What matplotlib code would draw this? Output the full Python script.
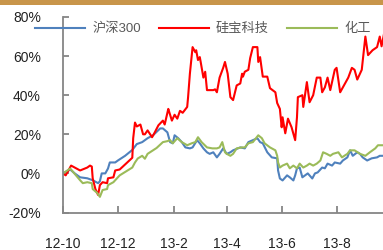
import matplotlib
matplotlib.use("Agg")
import matplotlib.pyplot as plt
import pandas as pd
from matplotlib.patches import Rectangle

plt.rcParams['font.family'] = ['Liberation Sans', 'Noto Sans CJK SC', 'DejaVu Sans']

start = pd.Timestamp('2012-10-01')

# days after 2012-10-01, cumulative return in %
red_days = [0, 3, 9, 19, 27, 30, 32, 33, 36, 39, 41, 44, 49, 50, 56, 58, 63, 70, 77, 78,
            80, 82, 86, 89, 91, 94, 99, 102, 106, 111, 113, 116, 117, 119, 121, 124, 127, 130, 133, 138,
            139, 141, 144, 147, 148, 150, 152, 153, 156, 158, 160, 167, 169, 171, 174, 178, 180, 182, 183, 186,
            189, 193, 197, 199, 200, 202, 206, 208, 211, 216, 217, 219, 222, 227, 230, 236, 238, 241, 243, 244,
            247, 250, 254, 258, 260, 261, 266, 267, 271, 274, 278, 282, 286, 288, 291, 294, 297, 302, 304, 308,
            311, 317, 321, 324, 327, 332, 336, 339, 344, 349, 352, 354, 357]
red_vals = [0, -1, 4, 1.5, 3, 4, 3.5, -2.5, -8, -11, -6, -4.5, -5, -2.5, -2, 1.5, 2, 5, 8, 18,
            26, 24, 25, 20, 20, 22, 18.5, 21, 24.6, 27, 25, 31, 33, 30, 27, 30, 28, 32, 31, 34,
            39, 51, 64.6, 62, 63, 58, 59.5, 57, 49, 52, 42.6, 42.6, 43, 41.5, 49, 54, 57, 53, 51, 39,
            37.5, 45, 46, 51, 49.5, 52, 53, 59, 64.6, 64.6, 57, 59.5, 49.5, 49.5, 43.6, 41.5, 36, 33, 23.6, 28.7,
            20.5, 28, 23.6, 17, 28.7, 39, 40, 34, 46.7, 36.4, 40, 49, 49, 41.5, 44, 49, 42.6, 53, 54, 41.5,
            44, 49, 54, 53, 48, 53, 70, 60.5, 63, 64.6, 70, 65, 72]

blue_days = [0, 8, 13, 19, 27, 33, 39, 41, 43, 47, 50, 52, 58, 61, 69, 77, 82, 88, 94, 100,
             108, 111, 116, 119, 122, 124, 128, 132, 136, 141, 144, 149, 152, 156, 160, 163, 167, 171, 174, 178,
             182, 186, 189, 197, 202, 206, 211, 216, 219, 222, 227, 232, 238, 239, 241, 244, 249, 252, 256, 258,
             260, 263, 266, 269, 272, 277, 280, 283, 288, 291, 294, 299, 302, 308, 311, 316, 319, 322, 327, 330,
             333, 338, 343, 349, 352, 357]
blue_vals = [0, 2, 0, -2, -2.5, -3.5, -5, -4, 0, 0, 2.5, 5.6, 5.6, 6.6, 9, 12, 15, 16, 18, 19.5,
             23, 23, 21, 16, 15.4, 19.5, 18, 16, 13.3, 12.8, 13.3, 17, 15.4, 12.8, 10.8, 10, 10.8, 8.2, 10, 12.8,
             10, 10.8, 11.8, 13.3, 12.8, 16, 17, 18, 16, 15.4, 10.8, 8.2, 7.7, 1.5, -2.6, -3.6, -1, -2, -3.6, -1,
             2.6, 3, -2, -1, 0, -2.6, 0, 0.5, 3, 2.6, 5, 4, 5.6, 5, 6.6, 8.2, 11.8, 9, 10.8, 10,
             8.2, 6.6, 7.7, 8.2, 9, 9]

green_days = [0, 8, 19, 22, 27, 32, 33, 38, 41, 44, 49, 50, 56, 63, 70, 77, 80, 83, 88, 91,
              94, 104, 111, 116, 119, 122, 127, 132, 138, 143, 147, 150, 154, 160, 166, 171, 174, 177, 180, 182,
              186, 189, 193, 199, 202, 206, 211, 217, 221, 224, 230, 236, 238, 239, 241, 244, 249, 252, 256, 260,
              263, 267, 271, 274, 278, 282, 286, 289, 293, 297, 300, 306, 310, 316, 319, 324, 330, 336, 341, 347,
              350, 357]
green_vals = [0, 2.5, -3.5, -5, -4.5, -5, -8, -10, -12, -8.5, -8, -6, -4.5, -1, 1, 3, 5.6, 7.6, 9, 7.5,
              10, 13, 16, 16.5, 17, 15.4, 18, 16, 14.4, 15.4, 16, 18.5, 16, 13.3, 12.8, 12.8, 13.3, 16, 10.8, 10,
              9, 10, 12.8, 13.3, 13.3, 15.4, 16, 19.5, 18, 15.4, 13.3, 11.8, 9, 5.6, 3, 4, 5, 2.6, 4, 2.6,
              5, 3, 4, 5, 4, 5, 6.6, 10.8, 10, 9, 10, 10.8, 8.2, 10, 11.8, 11.8, 10, 9, 10.8, 12.8,
              14.4, 14.4]

series_names = ['沪深300', '硅宝科技', '化工']
tick_dates = ['2012-10-01', '2012-12-01', '2013-02-01', '2013-04-01', '2013-06-01', '2013-08-01']
tick_labels = ['12-10', '12-12', '13-2', '13-4', '13-6', '13-8']
y_ticks = [-20, 0, 20, 40, 60, 80]


def to_dates(days):
    return start + pd.to_timedelta(days, unit='D')


fig = plt.figure(figsize=(3.83, 2.5), dpi=100)
fig.add_artist(Rectangle((0, 0.982), 1, 0.018, transform=fig.transFigure,
                         color='#c8954a', lw=0))
ax = fig.add_axes([0.1645, 0.15, 0.8355, 0.782])

ax.plot(to_dates(blue_days), blue_vals, color='#4f81bd', lw=1.5, label=series_names[0])
ax.plot(to_dates(red_days), red_vals, color='#ff0000', lw=1.5, label=series_names[1])
ax.plot(to_dates(green_days), green_vals, color='#9bbb59', lw=1.5, label=series_names[2])

ax.set_xlim(start, start + pd.Timedelta(days=355.6))
ax.set_ylim(-20, 80)
ax.set_yticks(y_ticks)
ax.set_yticklabels([f'{v}%' for v in y_ticks], fontsize=10, color='#222222')
ax.set_xticks(pd.to_datetime(tick_dates))
ax.set_xticklabels(tick_labels, fontsize=10, color='#222222')

for s in ['top', 'right']:
    ax.spines[s].set_visible(False)
for s in ['left', 'bottom']:
    ax.spines[s].set_color('#868686')
    ax.spines[s].set_linewidth(1.3)
ax.tick_params(axis='y', direction='in', length=4, width=1.3, color='#868686', pad=16)
ax.tick_params(axis='x', direction='in', length=5, width=1.3, color='#868686', pad=18)

leg = ax.legend(loc='center left', bbox_to_anchor=(0.091, 0.884), bbox_transform=fig.transFigure,
                ncol=3, frameon=False, fontsize=9.5, handlelength=3.8, handletextpad=0.55,
                columnspacing=1.35, borderaxespad=0, borderpad=0)
for t in leg.get_texts():
    t.set_color('#595959')

fig.savefig('out.png', dpi=100)
